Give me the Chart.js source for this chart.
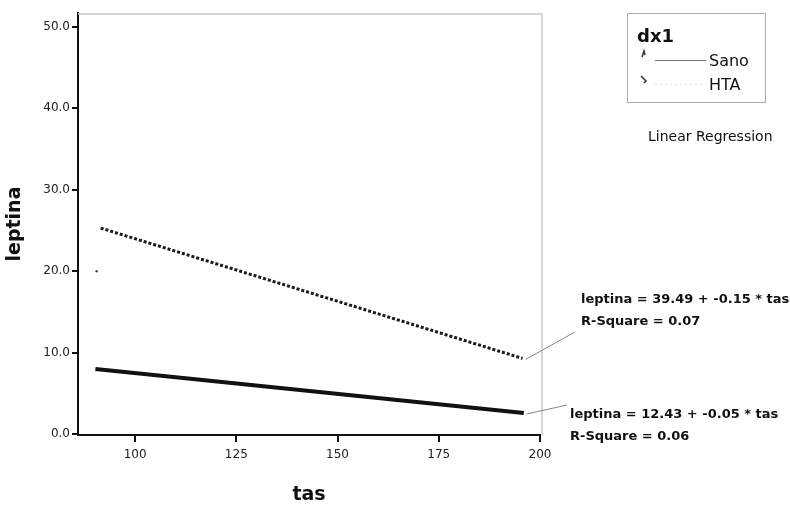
<!DOCTYPE html>
<html>
<head>
<meta charset="utf-8">
<script src="https://cdn.jsdelivr.net/npm/chart.js@4.4.1/dist/chart.umd.min.js"></script>
<style>
  html, body { margin: 0; padding: 0; background: #fff; }
  #wrap { width: 790px; height: 510px; }
</style>
</head>
<body>
<div id="wrap"><canvas id="Canvas" width="790" height="510"></canvas></div>
<script>
// datos
let xTicks = [100, 125, 150, 175, 200];
let yTicks = [0, 10, 20, 30, 40, 50];
let sanoTas = [90.2, 196];
let sanoLeptina = [8.0, 2.6];
let htaTas = [91.5, 195.7];
let htaLeptina = [25.3, 9.3];
let puntoTas = [90.5];
let puntoLeptina = [20.0];
let ecuaciones = [
  ["leptina = 39.49 + -0.15 * tas", "R-Square = 0.07"],
  ["leptina = 12.43 + -0.05 * tas", "R-Square = 0.06"]
];

function pares(xs, ys) {
  return xs.map(function (x, i) { return { x: x, y: ys[i] }; });
}

const fuente = "'DejaVu Sans', sans-serif";

// marco gris, leyenda y ecuaciones
const extras = {
  id: "extras",
  beforeDatasetsDraw(chart) {
    const ctx = chart.ctx;
    const a = chart.chartArea;
    ctx.save();
    ctx.strokeStyle = "#c8c8c8";
    ctx.lineWidth = 1.5;
    ctx.beginPath();
    ctx.moveTo(a.left, a.top + 1);
    ctx.lineTo(a.right + 2, a.top + 1);
    ctx.lineTo(a.right + 2, a.bottom);
    ctx.stroke();
    ctx.restore();
  },
  afterDraw(chart) {
    const ctx = chart.ctx;
    const xs = chart.scales.x;
    const ys = chart.scales.y;
    ctx.save();

    // leyenda
    ctx.strokeStyle = "#aaa";
    ctx.lineWidth = 1;
    ctx.strokeRect(627.5, 13.5, 138, 89);
    ctx.fillStyle = "#111";
    ctx.textBaseline = "middle";
    ctx.font = "bold 18px " + fuente;
    ctx.fillText("dx1", 637, 37);
    ctx.font = "16px " + fuente;
    ctx.fillText("Sano", 709, 62);
    ctx.fillText("HTA", 709, 86);
    ctx.font = "14px " + fuente;
    ctx.fillText("Linear Regression", 648, 137);
    ctx.strokeStyle = "#777";
    ctx.beginPath();
    ctx.moveTo(655, 60.5);
    ctx.lineTo(706, 60.5);
    ctx.stroke();
    ctx.strokeStyle = "#ddd";
    ctx.setLineDash([2, 3]);
    ctx.beginPath();
    ctx.moveTo(655, 84.5);
    ctx.lineTo(706, 84.5);
    ctx.stroke();
    ctx.setLineDash([]);
    // simbolos pequenos
    ctx.strokeStyle = "#333";
    ctx.lineWidth = 1.5;
    ctx.beginPath();
    ctx.moveTo(642, 57); ctx.lineTo(644, 51); ctx.lineTo(645, 55);
    ctx.moveTo(641, 76); ctx.lineTo(646, 81); ctx.lineTo(644, 83);
    ctx.stroke();

    // ecuaciones con lineas de enlace
    const finales = [
      { x: htaTas[htaTas.length - 1], y: htaLeptina[htaLeptina.length - 1], tx: 581, ty: 300, lx: 575, ly: 332 },
      { x: sanoTas[sanoTas.length - 1], y: sanoLeptina[sanoLeptina.length - 1], tx: 570, ty: 415, lx: 567, ly: 405 }
    ];
    ctx.strokeStyle = "#888";
    ctx.lineWidth = 1;
    finales.forEach(function (f, i) {
      const px = xs.getPixelForValue(f.x) + 3;
      const py = ys.getPixelForValue(f.y) + 1;
      ctx.beginPath();
      ctx.moveTo(px, py);
      ctx.lineTo(f.lx, f.ly);
      ctx.stroke();
      ctx.fillStyle = "#111";
      ctx.font = "bold 13px " + fuente;
      ctx.fillText(ecuaciones[i][0], f.tx, f.ty);
      ctx.fillText(ecuaciones[i][1], f.tx, f.ty + 22);
    });
    ctx.restore();
  }
};

function criarGrafico() {
  let ctx = document.getElementById("Canvas").getContext("2d");

  new Chart(ctx, {
    type: "scatter",
    data: {
      datasets: [
        {
          label: "Sano",
          data: pares(sanoTas, sanoLeptina),
          showLine: true,
          borderColor: "#111",
          borderWidth: 4,
          pointRadius: 0
        },
        {
          label: "HTA",
          data: pares(htaTas, htaLeptina),
          showLine: true,
          borderColor: "#1a1a1a",
          borderWidth: 3,
          borderDash: [3, 2],
          pointRadius: 0
        },
        {
          label: "punto",
          data: pares(puntoTas, puntoLeptina),
          backgroundColor: "#444",
          borderWidth: 0,
          pointRadius: 1.2
        }
      ]
    },
    options: {
      responsive: false,
      animation: false,
      layout: { padding: { left: 0, top: 13, right: 250, bottom: 0 } },
      plugins: {
        legend: { display: false },
        tooltip: { enabled: false }
      },
      scales: {
        x: {
          type: "linear",
          min: 85.9,
          max: 200,
          afterBuildTicks: function (s) { s.ticks = xTicks.map(function (v) { return { value: v }; }); },
          afterFit: function (s) { s.height = 75; },
          grid: { drawOnChartArea: false, color: "#111", lineWidth: 2, tickLength: 7 },
          border: { color: "#111", width: 2 },
          ticks: { color: "#222", font: { family: fuente, size: 12 }, padding: 6 },
          title: { display: true, text: "tas", color: "#111", font: { family: fuente, size: 19, weight: "bold" }, padding: { top: 10 } }
        },
        y: {
          type: "linear",
          min: -0.1,
          max: 51.7,
          afterBuildTicks: function (s) { s.ticks = yTicks.map(function (v) { return { value: v }; }); },
          afterFit: function (s) { s.width = 78; },
          grid: { drawOnChartArea: false, color: "#111", lineWidth: 2, tickLength: 6 },
          border: { color: "#111", width: 2 },
          ticks: {
            color: "#222",
            font: { family: fuente, size: 12 },
            padding: 2,
            callback: function (v) { return v.toFixed(1); }
          },
          title: { display: true, text: "leptina", color: "#111", font: { family: fuente, size: 19, weight: "bold" }, padding: { bottom: 2 } }
        }
      }
    },
    plugins: [extras]
  });
}

criarGrafico();
</script>
</body>
</html>
